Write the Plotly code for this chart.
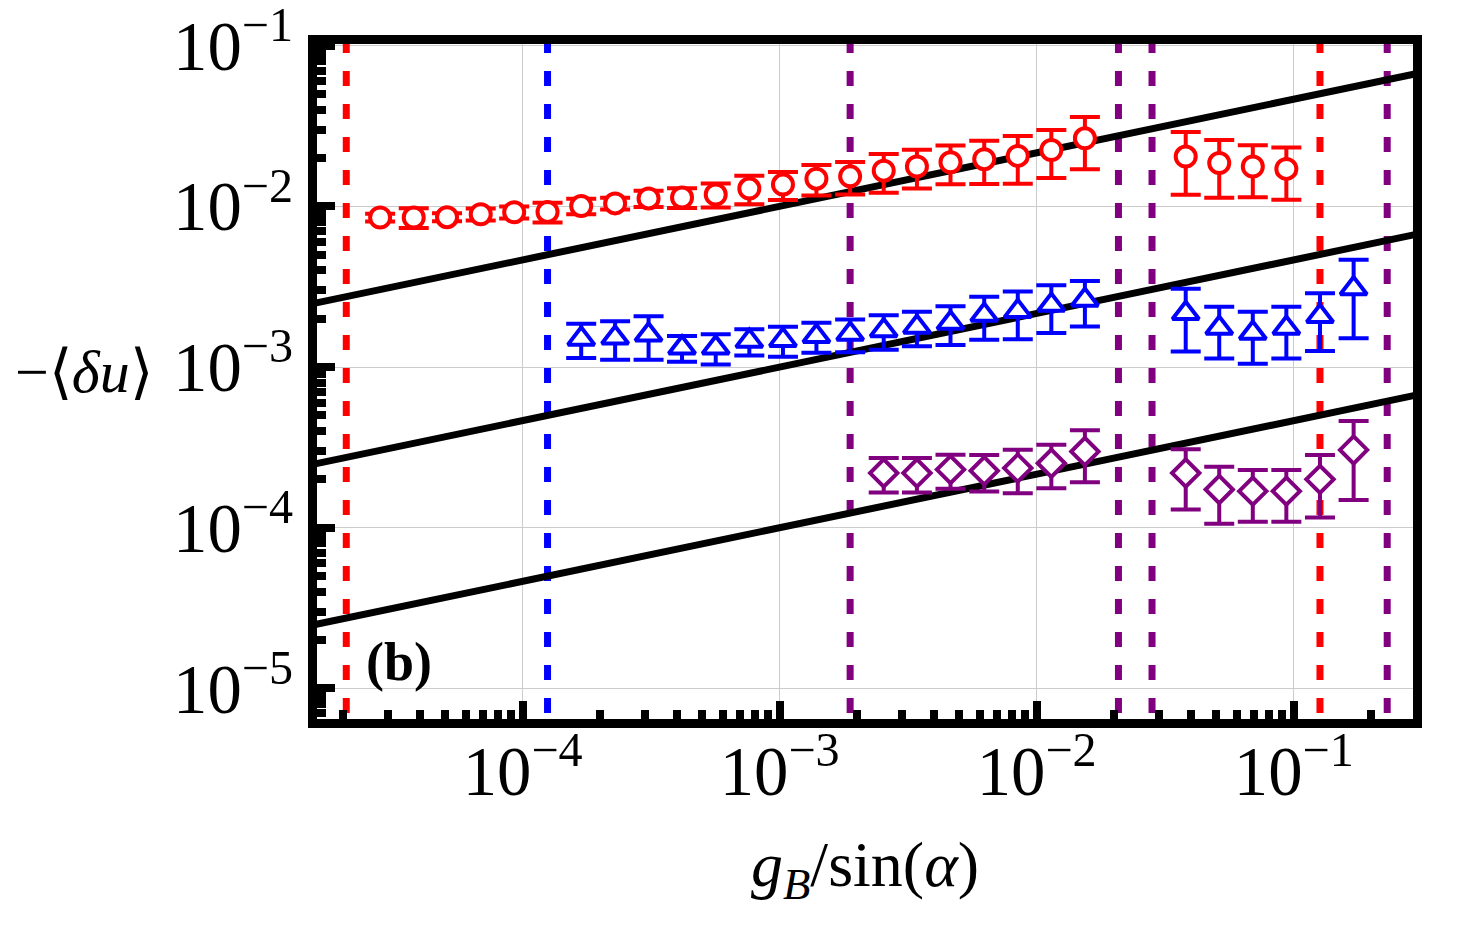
import plotly.graph_objects as go

# data (log-log axes)
red_x = [2.79e-5, 3.77e-5, 5.08e-5, 6.87e-5, 9.27e-5, 1.25e-4, 1.69e-4, 2.29e-4, 3.09e-4, 4.17e-4,
         5.64e-4, 7.62e-4, 1.03e-3, 1.39e-3, 1.88e-3, 2.54e-3, 3.42e-3, 4.62e-3, 6.25e-3, 8.44e-3,
         1.14e-2, 1.54e-2, 3.80e-2, 5.13e-2, 6.93e-2, 9.36e-2]
red_y = [8.52e-3, 8.52e-3, 8.56e-3, 8.93e-3, 9.19e-3, 9.23e-3, 1.004e-2, 1.043e-2, 1.12e-2, 1.135e-2,
         1.185e-2, 1.29e-2, 1.365e-2, 1.486e-2, 1.536e-2, 1.666e-2, 1.77e-2, 1.88e-2, 1.965e-2, 2.06e-2,
         2.24e-2, 2.65e-2, 2.04e-2, 1.86e-2, 1.77e-2, 1.71e-2]
red_err = [4.8e-4, 1.2e-3, 4.9e-4, 7.6e-4, 7.8e-4, 1.3e-3, 1.1e-3, 8.9e-4, 1.3e-3, 1.6e-3,
           2.0e-3, 2.6e-3, 2.7e-3, 3.2e-3, 3.5e-3, 4.5e-3, 4.8e-3, 5.1e-3, 5.9e-3, 6.8e-3,
           7.4e-3, 9.5e-3, 8.6e-3, 7.3e-3, 6.3e-3, 6.1e-3]

blue_x = [1.69e-4, 2.29e-4, 3.09e-4, 4.17e-4, 5.64e-4, 7.62e-4, 1.03e-3, 1.39e-3, 1.88e-3, 2.54e-3,
          3.42e-3, 4.62e-3, 6.25e-3, 8.44e-3, 1.14e-2, 1.54e-2, 3.80e-2, 5.13e-2, 6.93e-2, 9.36e-2,
          0.1265, 0.171]
blue_y = [1.497e-3, 1.52e-3, 1.59e-3, 1.318e-3, 1.318e-3, 1.45e-3, 1.47e-3, 1.556e-3, 1.607e-3, 1.69e-3,
          1.775e-3, 1.88e-3, 2.11e-3, 2.22e-3, 2.43e-3, 2.61e-3, 2.16e-3, 1.75e-3, 1.63e-3, 1.75e-3,
          2.07e-3, 3.08e-3]
blue_err = [3.6e-4, 4.1e-4, 4.8e-4, 2.4e-4, 2.8e-4, 2.7e-4, 3.1e-4, 3.3e-4, 3.7e-4, 4.1e-4,
            4.3e-4, 5.1e-4, 6.3e-4, 7.3e-4, 8.0e-4, 8.2e-4, 9.1e-4, 6.2e-4, 5.8e-4, 6.2e-4,
            8.1e-4, 1.57e-3]

purple_x = [2.54e-3, 3.42e-3, 4.62e-3, 6.25e-3, 8.44e-3, 1.14e-2, 1.54e-2, 3.80e-2, 5.13e-2, 6.93e-2,
            9.36e-2, 0.1265, 0.171]
purple_y = [2.19e-4, 2.19e-4, 2.30e-4, 2.26e-4, 2.35e-4, 2.52e-4, 2.98e-4, 2.19e-4, 1.73e-4, 1.69e-4,
            1.69e-4, 2.0e-4, 3.05e-4]
purple_err = [5.3e-5, 5.3e-5, 5.5e-5, 5.8e-5, 7.1e-5, 7.6e-5, 1.06e-4, 8.9e-5, 6.7e-5, 6.0e-5,
              6.0e-5, 8.4e-5, 1.56e-4]

# power-law guide lines (end points)
fit_x = [1e-5, 1.0]
fit_y_top = [2.154e-3, 1e-1]
fit_y_mid = [2.154e-4, 1e-2]
fit_y_bot = [2.154e-5, 1e-3]

# vertical dashed markers, drawn over the full height
vline_red = [2.06e-5, 0.1265]
vline_blue = [1.25e-4]
vline_purple = [1.88e-3, 2.08e-2, 2.81e-2, 0.231]
vline_span = [1e-7, 1.0]

RED, BLUE, PURPLE = '#ff0000', '#0000ff', '#800080'
SERIF = 'Liberation Serif, Times New Roman, serif'

fig = go.Figure()

for xs, col in [(vline_red, RED), (vline_blue, BLUE), (vline_purple, PURPLE)]:
    for xv in xs:
        fig.add_trace(go.Scatter(x=[xv, xv], y=vline_span, mode='lines',
                                 line=dict(color=col, width=7, dash='15px,18px'),
                                 showlegend=False, hoverinfo='skip'))

for fy in [fit_y_top, fit_y_mid, fit_y_bot]:
    fig.add_trace(go.Scatter(x=fit_x, y=fy, mode='lines',
                             line=dict(color='black', width=7), showlegend=False, hoverinfo='skip'))

series = [
    (red_x, red_y, red_err, RED, 'circle', 20),
    (blue_x, blue_y, blue_err, BLUE, 'triangle-up', 23),
    (purple_x, purple_y, purple_err, PURPLE, 'diamond', 21),
]
for sx, sy, se, col, sym, size in series:
    fig.add_trace(go.Scatter(
        x=sx, y=sy, mode='markers',
        marker=dict(symbol=sym, size=size, color='white', line=dict(color=col, width=4)),
        error_y=dict(type='data', array=se, visible=True, color=col, thickness=4, width=15),
        showlegend=False,
    ))

axis_common = dict(
    type='log',
    dtick=1,
    exponentformat='power',
    showline=True, linecolor='black', linewidth=9, mirror=True,
    ticks='inside', ticklen=18, tickwidth=8, tickcolor='black',
    minor=dict(ticks='inside', ticklen=9, tickwidth=8, tickcolor='black', dtick='D1', showgrid=False),
    showgrid=True, gridcolor='#cccccc', gridwidth=1,
    zeroline=False,
    automargin=False,
    ticklabeloverflow='allow',
    tickfont=dict(family=SERIF, size=55, color='black'),
)

fig.update_xaxes(range=[-4.80, -0.536], ticklabelstandoff=-13, **axis_common,
                 title=dict(text='<i>g</i><sub><i>B</i></sub>/sin(<i>α</i>)',
                            font=dict(family=SERIF, size=64, color='black'), standoff=36))
fig.update_yaxes(range=[-5.19, -0.99], ticklabelstandoff=4, **axis_common)

fig.add_annotation(text='−⟨<i>δu</i>⟩', xref='paper', yref='paper', x=-0.2126, y=0.514,
                   xanchor='center', yanchor='middle',
                   showarrow=False, font=dict(family=SERIF, size=60, color='black'))
fig.add_annotation(text='<b>(b)</b>', xref='paper', yref='paper', x=0.0748, y=0.0844,
                   xanchor='center', yanchor='middle',
                   showarrow=False, font=dict(family=SERIF, size=54, color='black'))

fig.update_layout(
    width=1459, height=934,
    margin=dict(l=317, r=46, t=44, b=215),
    plot_bgcolor='white', paper_bgcolor='white',
    showlegend=False,
)

fig.write_html('out.html', config={'displayModeBar': False},
               post_script="document.body.style.margin='0';")
